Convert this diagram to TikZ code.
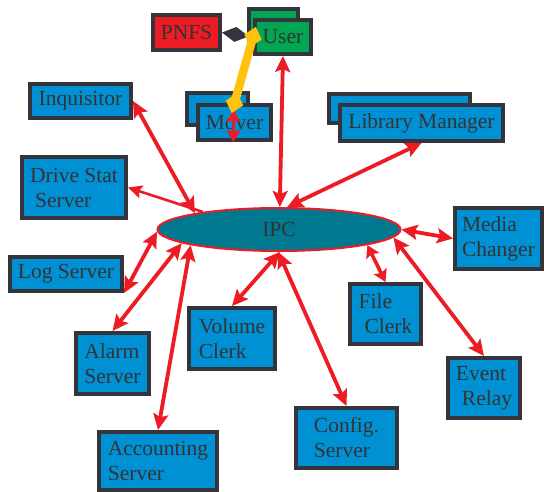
\documentclass[tikz,border=0pt]{standalone}
\usepackage{fontspec}
\setmainfont{Liberation Serif}
\usetikzlibrary{arrows.meta,shapes.geometric,calc}
\definecolor{boxfill}{HTML}{0091D5}
\definecolor{boxline}{HTML}{34343C}
\definecolor{txtgray}{HTML}{333333}
\definecolor{linkred}{HTML}{ED1C24}
\definecolor{usergreen}{HTML}{00A651}
\definecolor{ipcteal}{HTML}{00788F}
\definecolor{linkyellow}{HTML}{FFC20E}

\begin{document}
\begin{tikzpicture}[x=1pt, y=-1pt,
  every node/.style={font=\fontsize{21.5}{25}\selectfont, text=txtgray},
  comp/.style={draw=boxline, fill=boxfill, line width=4pt, anchor=north west,
    align=left, inner sep=2pt},
  bus/.style={ellipse, draw=linkred, fill=ipcteal, line width=2pt, inner sep=0pt,
    minimum width=243pt, minimum height=43pt},
  msg/.style={{Stealth[length=16pt,width=15pt,inset=3pt]}-{Stealth[length=16pt,width=15pt,inset=3pt]},
    line width=3.8pt, draw=linkred},
  msgone/.style={{Stealth[length=14pt,width=13pt,inset=2.5pt]}-, line width=2.6pt, draw=linkred},
  msgshort/.style={{Stealth[length=12pt,width=14pt,inset=2pt]}-{Stealth[length=12pt,width=14pt,inset=2pt]},
    line width=3.6pt, draw=linkred},
  agg/.style={-{Diamond[length=27pt,width=15pt]}, line width=1pt, draw=boxline, fill=boxline},
  ylink/.style={{Diamond[length=21pt,width=18pt]}-{Diamond[length=21pt,width=18pt]},
    line width=8.5pt, draw=linkyellow, fill=linkyellow}
]
\useasboundingbox (0,0) rectangle (544,492);
% stacked copies behind
\node[comp, fill=usergreen, minimum width=49pt, minimum height=35pt] (usrb) at (247,7) {};
\node[comp, minimum width=61pt, minimum height=32pt] (mvb) at (185,91) {};
\node[comp, minimum width=141pt, minimum height=29pt] (lmb) at (327,92) {};
% components
\node[comp, fill=linkred, minimum width=67pt, minimum height=35pt] (pnfs) at (151,13) {PNFS};
\node[comp, fill=usergreen, minimum width=56pt, minimum height=34pt] (usr) at (253,18) {User};
\node[comp, minimum width=73pt, minimum height=35pt] (mv) at (196,103) {Mover};
\node[comp, minimum width=163pt, minimum height=36pt] (lm) at (338,103) {Library Manager};
\node[comp, minimum width=101pt, minimum height=34pt] (inq) at (28,82) {Inquisitor};
\node[comp, minimum width=104pt, minimum height=61pt] (ds) at (20,155) {Drive Stat\\\hspace*{5pt}Server};
\node[comp, minimum width=112pt, minimum height=34pt] (ls) at (8,255) {Log Server};
\node[comp, minimum width=73pt, minimum height=61pt] (al) at (74,331) {Alarm\\Server};
\node[comp, minimum width=118pt, minimum height=58pt] (acc) at (97,430) {Accounting\\Server};
\node[comp, minimum width=86pt, minimum height=61pt] (vc) at (187,306) {Volume\\Clerk};
\node[comp, minimum width=101pt, minimum height=60pt] (cs) at (294,406) {Config.\\Server};
\node[comp, minimum width=71pt, minimum height=60pt] (fc) at (348,282) {File\\\hspace*{6pt}Clerk};
\node[comp, minimum width=72pt, minimum height=60pt] (er) at (446,356) {Event\\\hspace*{6pt}Relay};
\node[comp, minimum width=87pt, minimum height=61pt] (mc) at (453,206) {Media\\Changer};
\node[bus] (ipc) at (279,229.5) {IPC};
% message paths through IPC
\draw[msg] (usr.south) -- (ipc.88);
\draw[msg] (lm.south) -- (ipc.70);
\draw[msg] (inq.east) -- (ipc.169);
\draw[msgone] (ds.east) -- (ipc.167);
\draw[msg] (ls.south east) -- (ipc.181);
\draw[msg] (al.north) -- (ipc.188);
\draw[msg] (acc.north) -- (ipc.190);
\draw[msg] (vc.north) -- (ipc.272);
\draw[msg] (cs.north) -- (ipc.268);
\draw[msgshort] (ipc.350) -- (fc.north);
\draw[msg] (ipc.0) -- (mc.west);
\draw[msg] (ipc.356) -- (er.north);
\coordinate (mvtop) at ($(mv.north)+(-1,7)$);
\draw[msgshort] (mvtop) -- ($(mv.south)+(-1,0)$);
% user side links
\draw[agg] (usr.west) -- (pnfs.east);
\coordinate (yu) at ($(usr.west)!-10.5pt!(mv.north)$);
\coordinate (ym) at ($(mv.north)!-10.5pt!(usr.west)$);
\draw[ylink] (yu) -- (ym);
\end{tikzpicture}
\end{document}
